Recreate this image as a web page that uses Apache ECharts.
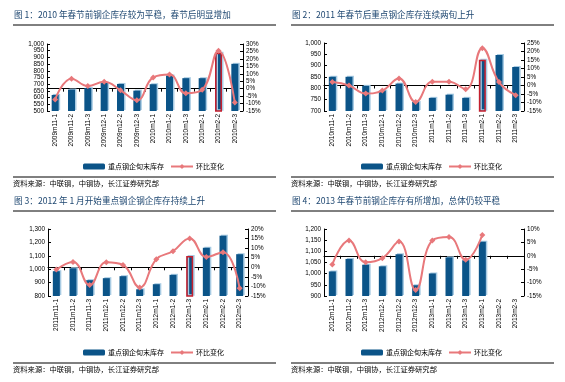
<!DOCTYPE html>
<html><head><meta charset="utf-8">
<script src="https://cdn.jsdelivr.net/npm/echarts@6/dist/echarts.min.js"></script>
<style>html,body{margin:0;padding:0;background:#fff}#c{width:565px;height:382px}</style>
</head><body><div id="c"></div>
<script>
var cats1 = ['2009m11-1','2009m11-2','2009m11-3','2009m12-1','2009m12-2','2009m12-3','2010m1-1','2010m1-2','2010m1-3','2010m2-1','2010m2-2','2010m2-3'];
var stock1 = [620,660,672,710,702,652,700,765,745,745,935,852];
var chg1 = [-7.3,6.7,1.8,4.7,-1.1,-7.8,7.5,9.5,-3.1,-0.7,25.5,-9.3];

var cats2 = ['2010m11-1','2010m11-2','2010m11-3','2010m12-1','2010m12-2','2010m12-3','2011m1-1','2011m1-2','2011m1-3','2011m2-1','2011m2-2','2011m2-3'];
var stock2 = [851,851,811,790,821,740,758,772,758,926,947,894];
var chg2 = [2.0,0,-4.7,-3.0,4.1,-9.7,2.2,2.2,-2.2,21.9,2.0,-5.7];

var cats3 = ['2011m11-1','2011m11-2','2011m11-3','2011m12-1','2011m12-2','2011m12-3','2012m1-1','2012m1-2','2012m1-3','2012m2-1','2012m2-2','2012m2-3'];
var stock3 = [985,1007,918,933,948,850,888,958,1098,1160,1250,1112];
var chg3 = [-1.2,2.8,-9.3,2.6,1.2,-10.5,4.2,8.4,15.1,5.4,7.9,-11.0];

var cats4 = ['2012m11-1','2012m11-2','2012m11-3','2012m12-1','2012m12-2','2012m12-3','2013m1-1','2013m1-2','2013m1-3','2013m2-1','2013m2-2','2013m2-3'];
var stock4 = [1010,1066,1040,1033,1087,948,1001,1073,1060,1143,null,null];
var chg4 = [-3.2,5.7,-2.4,-0.9,5.3,-12.8,5.7,7.0,-1.5,7.8,null,null];

var titles = ['图 1：2010 年春节前钢企库存较为平稳，春节后明显增加',
              '图 2：2011 年春节后重点钢企库存连续两旬上升',
              '图 3：2012 年 1 月开始重点钢企钢企库存持续上升',
              '图 4：2013 年春节前钢企库存有所增加，总体仍较平稳'];
var sourceText = '资料来源：中联钢，中钢协，长江证券研究部';
var barName = '重点钢企旬末库存';
var lineName = '环比变化';
var highlight = [10, 9, 8, -1];
var leftRange = [[500,1000,50],[700,1000,50],[800,1300,100],[900,1200,50]];
var rightRange = [[-15,30,5],[-15,25,5],[-15,20,5],[-15,10,5]];

var cats = [cats1,cats2,cats3,cats4];
var stocks = [stock1,stock2,stock3,stock4];
var chgs = [chg1,chg2,chg3,chg4];

var panels = [
  {x:0, y:0, gl:47, gr:243, gt:44, gb:111},
  {x:278, y:0, gl:324, gr:524, gt:43, gb:111},
  {x:0, y:186, gl:48, gr:248, gt:229, gb:296},
  {x:278, y:186, gl:324, gr:524, gt:229, gb:296}
];
var BAR = '#0b5488', LINE = '#e8787b', TITLE = '#1d4670';
var CJK = '"Noto Sans CJK SC", sans-serif';
var NUMF = 'Arial, "Liberation Sans", sans-serif';

function commas(v){ return String(v).replace(/\B(?=(\d{3})+(?!\d))/g, ','); }
function ticks(r){ var a=[]; for(var v=r[0]; v<=r[1]+1e-9; v+=r[2]) a.push(v); return a; }

var grid=[], xAxis=[], yAxis=[], series=[], legend=[], graphic=[];
panels.forEach(function(p,i){
  grid.push({left:p.gl, top:p.gt, width:p.gr-p.gl, height:p.gb-p.gt, containLabel:false});
  xAxis.push({type:'category', gridIndex:i, data:cats[i],
    axisLine:{lineStyle:{color:'#000',width:1}},
    axisTick:{show:true, length:3, inside:false, lineStyle:{color:'#000'}},
    axisLabel:{rotate:90, fontSize:6.5, color:'#000', margin:3, fontFamily:NUMF, interval:0, hideOverlap:false}});
  var lab = {fontSize:6.3, color:'#000', margin:3, fontFamily:NUMF, hideOverlap:false, showMinLabel:true, showMaxLabel:true};
  yAxis.push({type:'value', gridIndex:i, position:'left', min:leftRange[i][0], max:leftRange[i][1], interval:leftRange[i][2],
    axisLine:{show:true, lineStyle:{color:'#000'}}, axisTick:{show:true,length:3,inside:true, lineStyle:{color:'#000'}},
    splitLine:{show:false},
    axisLabel:Object.assign({customValues:ticks(leftRange[i]), formatter:function(v){return commas(v);}}, lab)});
  yAxis.push({type:'value', gridIndex:i, position:'right', min:rightRange[i][0], max:rightRange[i][1], interval:rightRange[i][2],
    axisLine:{show:true, lineStyle:{color:'#000'}}, axisTick:{show:true,length:3,inside:true, lineStyle:{color:'#000'}},
    splitLine:{show:false},
    axisLabel:Object.assign({customValues:ticks(rightRange[i]), formatter:function(v){return v+'%';}}, lab)});
  series.push({type:'bar', name:barName, xAxisIndex:i, yAxisIndex:2*i, barWidth:7,
    data:stocks[i].map(function(v,k){
      if(k===highlight[i]) return {value:v, itemStyle:{borderColor:'#c41f2e', borderWidth:1.5}};
      return v;}),
    itemStyle:{color:BAR, shadowColor:'#a8cbe3', shadowOffsetX:1.5, shadowOffsetY:-1, shadowBlur:0},
    animation:false});
  series.push({type:'line', name:lineName, xAxisIndex:i, yAxisIndex:2*i+1, data:chgs[i], smooth:0.45,
    symbol:'diamond', symbolSize:6, lineStyle:{color:LINE, width:2}, itemStyle:{color:LINE},
    connectNulls:false, animation:false});
  legend.push({data:[barName, lineName], left:p.x+78, top:p.y+158, itemGap:6, itemWidth:22, itemHeight:6,
    textStyle:{fontSize:7, fontFamily:CJK, color:'#000', padding:[0,0,0,-2]}});
  graphic.push({type:'text', left:p.x+14, top:p.y+10, style:{text:titles[i], fontSize:8.6, fontFamily:CJK, fill:TITLE}});
  graphic.push({type:'line', shape:{x1:p.x+13, y1:p.y+25, x2:p.x+276, y2:p.y+25}, style:{stroke:'#000', lineWidth:1}});
  graphic.push({type:'line', shape:{x1:p.x+13, y1:p.y+177, x2:p.x+276, y2:p.y+177}, style:{stroke:'#000', lineWidth:1}});
  graphic.push({type:'text', left:p.x+13, top:p.y+180, style:{text:sourceText, fontSize:7.3, fontFamily:CJK, fill:'#000'}});
});

var chart = echarts.init(document.getElementById('c'), null, {renderer:'canvas'});
chart.setOption({animation:false, grid:grid, xAxis:xAxis, yAxis:yAxis, series:series, legend:legend, graphic:graphic});
</script></body></html>
